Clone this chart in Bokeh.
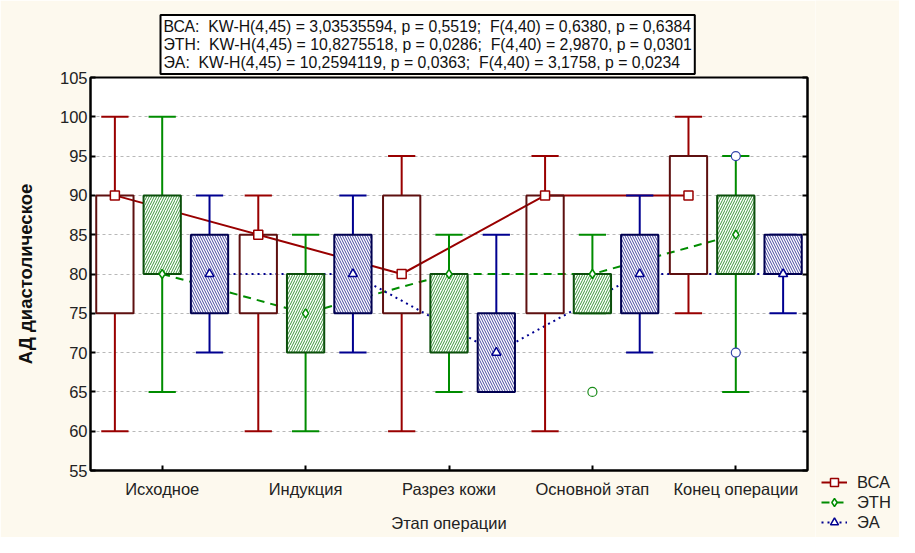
from bokeh.plotting import figure
from bokeh.layouts import row
from bokeh.models import (FixedTicker, LinearAxis, Legend, LegendItem, Title, Range1d)
from bokeh.embed import file_html
from bokeh.resources import INLINE

# ---------------- data ----------------
stages = ["Исходное", "Индукция", "Разрез кожи", "Основной этап", "Конец операции"]
series = ["ВСА", "ЭТН", "ЭА"]

bca_med = [90, 85, 80, 90, 90]
bca_q1 = [75, 75, 75, 75, 80]
bca_q3 = [90, 85, 90, 90, 95]
bca_lo = [60, 60, 60, 60, 75]
bca_hi = [100, 90, 95, 95, 100]

etn_med = [80, 75, 80, 80, 85]
etn_q1 = [80, 70, 70, 75, 80]
etn_q3 = [90, 80, 80, 80, 90]
etn_lo = [65, 60, 65, 75, 65]
etn_hi = [100, 85, 85, 85, 95]
etn_out_stage = [3, 4, 4]
etn_out_val = [65, 95, 70]

ea_med = [80, 80, 70, 80, 80]
ea_q1 = [75, 75, 65, 75, 80]
ea_q3 = [85, 85, 75, 85, 85]
ea_lo = [70, 70, 65, 70, 75]
ea_hi = [90, 90, 85, 90, 85]

y_ticks = [55, 60, 65, 70, 75, 80, 85, 90, 95, 100, 105]

stat_lines = [
    "ВСА:\u00a0 KW-H(4,45) = 3,03535594, p = 0,5519;\u00a0 F(4,40) = 0,6380, p = 0,6384",
    "ЭТН:\u00a0 KW-H(4,45) = 10,8275518, p = 0,0286;\u00a0 F(4,40) = 2,9870, p = 0,0301",
    "ЭА:\u00a0 KW-H(4,45) = 10,2594119, p = 0,0363;\u00a0 F(4,40) = 3,1758, p = 0,0234",
]

FONT = "Liberation Sans"
BG = "#fdf9ee"
TXT = "#222222"
H = 537

p = figure(width=815, height=H, output_backend="svg", toolbar_location=None, title=None,
           x_range=Range1d(-0.5, 4.5), y_range=Range1d(55, 105),
           min_border_left=90, min_border_right=8, min_border_top=77, min_border_bottom=67,
           background_fill_color="white", border_fill_color=BG)
p.outline_line_color = "black"
p.outline_line_width = 2

# axes
p.xaxis.ticker = FixedTicker(ticks=list(range(len(stages))))
p.xaxis.major_label_overrides = {i: s for i, s in enumerate(stages)}
p.xaxis.minor_tick_line_color = None
p.xaxis.major_tick_in = 5
p.xaxis.major_tick_out = 0
p.xaxis.major_tick_line_width = 2
p.xaxis.axis_line_width = 2
p.xaxis.major_label_standoff = 9
p.xaxis.major_label_text_font = FONT
p.xaxis.major_label_text_font_size = "16.5px"
p.xaxis.major_label_text_color = TXT
p.xaxis.axis_label = "Этап операции"
p.xaxis.axis_label_text_font = FONT
p.xaxis.axis_label_text_font_size = "16.5px"
p.xaxis.axis_label_text_font_style = "normal"
p.xaxis.axis_label_text_color = TXT
p.xaxis.axis_label_standoff = 13

p.yaxis.ticker = FixedTicker(ticks=y_ticks)
p.yaxis.minor_tick_line_color = None
p.yaxis.major_tick_in = 5
p.yaxis.major_tick_out = 0
p.yaxis.major_tick_line_width = 2
p.yaxis.axis_line_width = 2
p.yaxis.major_label_standoff = 3
p.yaxis.major_label_text_font = FONT
p.yaxis.major_label_text_font_size = "16.5px"
p.yaxis.major_label_text_color = TXT
p.yaxis.axis_label = "АД диастолическое"
p.yaxis.axis_label_text_font = FONT
p.yaxis.axis_label_text_font_size = "18.5px"
p.yaxis.axis_label_text_font_style = "bold"
p.yaxis.axis_label_text_color = "#111111"
p.yaxis.axis_label_standoff = 21

ry = LinearAxis(ticker=FixedTicker(ticks=y_ticks), major_tick_in=5, major_tick_out=0,
                major_tick_line_width=2, axis_line_width=2, minor_tick_line_color=None,
                major_label_text_font_size="1px", major_label_text_color=None,
                major_label_standoff=0)
p.add_layout(ry, "right")

p.xgrid.visible = False
p.ygrid.ticker = FixedTicker(ticks=y_ticks)
p.ygrid.grid_line_color = "#b8b8b8"
p.ygrid.grid_line_dash = "3 3"
p.ygrid.grid_line_width = 1

offsets = [-0.33, 0.0, 0.33]
BOXW = 0.26
CAPW = 0.19

styles = [
    dict(name="ВСА", med=bca_med, q1=bca_q1, q3=bca_q3, lo=bca_lo, hi=bca_hi,
         col="#990000", box="#5e1010", hatch=None, hatch_col=None, dash="solid", marker="square"),
    dict(name="ЭТН", med=etn_med, q1=etn_q1, q3=etn_q3, lo=etn_lo, hi=etn_hi,
         col="#008c00", box="#0b4f0b", hatch="/", hatch_col="#3c963c", dash="8 6", marker="diamond"),
    dict(name="ЭА", med=ea_med, q1=ea_q1, q3=ea_q3, lo=ea_lo, hi=ea_hi,
         col="#000090", box="#000050", hatch="\\", hatch_col="#4646a0", dash="2 4", marker="triangle"),
]

for k, s in enumerate(styles):
    xs = [i + offsets[k] for i in range(len(stages))]
    s["xs"] = xs
    p.line(xs, s["med"], line_color=s["col"], line_width=2, line_dash=s["dash"])

for k, s in enumerate(styles):
    xs = s["xs"]
    p.segment(xs, s["lo"], xs, s["q1"], line_color=s["col"], line_width=2)
    p.segment(xs, s["q3"], xs, s["hi"], line_color=s["col"], line_width=2)
    p.segment([x - CAPW / 2 for x in xs], s["lo"], [x + CAPW / 2 for x in xs], s["lo"],
              line_color=s["col"], line_width=2)
    p.segment([x - CAPW / 2 for x in xs], s["hi"], [x + CAPW / 2 for x in xs], s["hi"],
              line_color=s["col"], line_width=2)

for k, s in enumerate(styles):
    xs = s["xs"]
    if s["hatch"] is None:
        p.vbar(x=xs, width=BOXW, top=s["q3"], bottom=s["q1"], fill_alpha=0,
               line_color=s["box"], line_width=2)
    else:
        p.vbar(x=xs, width=BOXW, top=s["q3"], bottom=s["q1"], fill_color="white",
               line_color=s["box"], line_width=2, hatch_pattern=s["hatch"],
               hatch_color=s["hatch_col"], hatch_scale=5, hatch_weight=1)

for k, s in enumerate(styles):
    p.scatter(s["xs"], s["med"], marker=s["marker"], size=9, fill_color="white",
              line_color=s["col"], line_width=1.5)

# outliers (ЭТН)
out_x = [st + offsets[1] for st in etn_out_stage]
p.scatter(out_x[:1], etn_out_val[:1], marker="circle", size=9, fill_color="white",
          line_color="#1a8c1a", line_width=1.2)
p.scatter(out_x[1:], etn_out_val[1:], marker="circle", size=9, fill_color="white",
          line_color="#3344aa", line_width=1.2)

stat = Title(text="\n".join(stat_lines), align="left", offset=70, standoff=7,
             vertical_align="bottom",
             text_font=FONT, text_font_size="15.8px", text_font_style="normal",
             text_line_height=1.06, text_color="#111111",
             border_line_color="black", border_line_width=2,
             background_fill_color="white", padding=3)
p.add_layout(stat, "above")

# ---------------- legend panel (second figure at the right) ----------------
# its data lie outside its visible range; only the legend is seen
q = figure(width=84, height=H, output_backend="svg", toolbar_location=None, title=None,
           x_range=Range1d(-0.5, 4.5), y_range=Range1d(200, 300),
           x_axis_type=None, y_axis_type=None,
           min_border_left=0, min_border_right=0, min_border_top=0, min_border_bottom=0,
           background_fill_color=BG, border_fill_color=BG)
q.outline_line_color = None
q.grid.visible = False

for fig in (p, q):
    try:
        fig.frame_align = False
    except Exception:
        pass

items = []
for k, s in enumerate(styles):
    lr = q.line(s["xs"], s["med"], line_color=s["col"], line_width=2, line_dash=s["dash"])
    mr = q.scatter(s["xs"], s["med"], marker=s["marker"], size=9, fill_color="white",
                   line_color=s["col"], line_width=1.5)
    items.append(LegendItem(label=s["name"], renderers=[lr, mr]))

legend = Legend(items=items, location=(4, 3), orientation="vertical",
                background_fill_alpha=0, border_line_alpha=0,
                label_text_font=FONT, label_text_font_size="16.5px", label_text_color=TXT,
                glyph_width=26, glyph_height=20, label_height=20, label_standoff=10,
                padding=2, spacing=0, margin=0)
q.add_layout(legend, "center")

layout = row(p, q, spacing=0)
open("out.html", "w").write(file_html(layout, INLINE))
